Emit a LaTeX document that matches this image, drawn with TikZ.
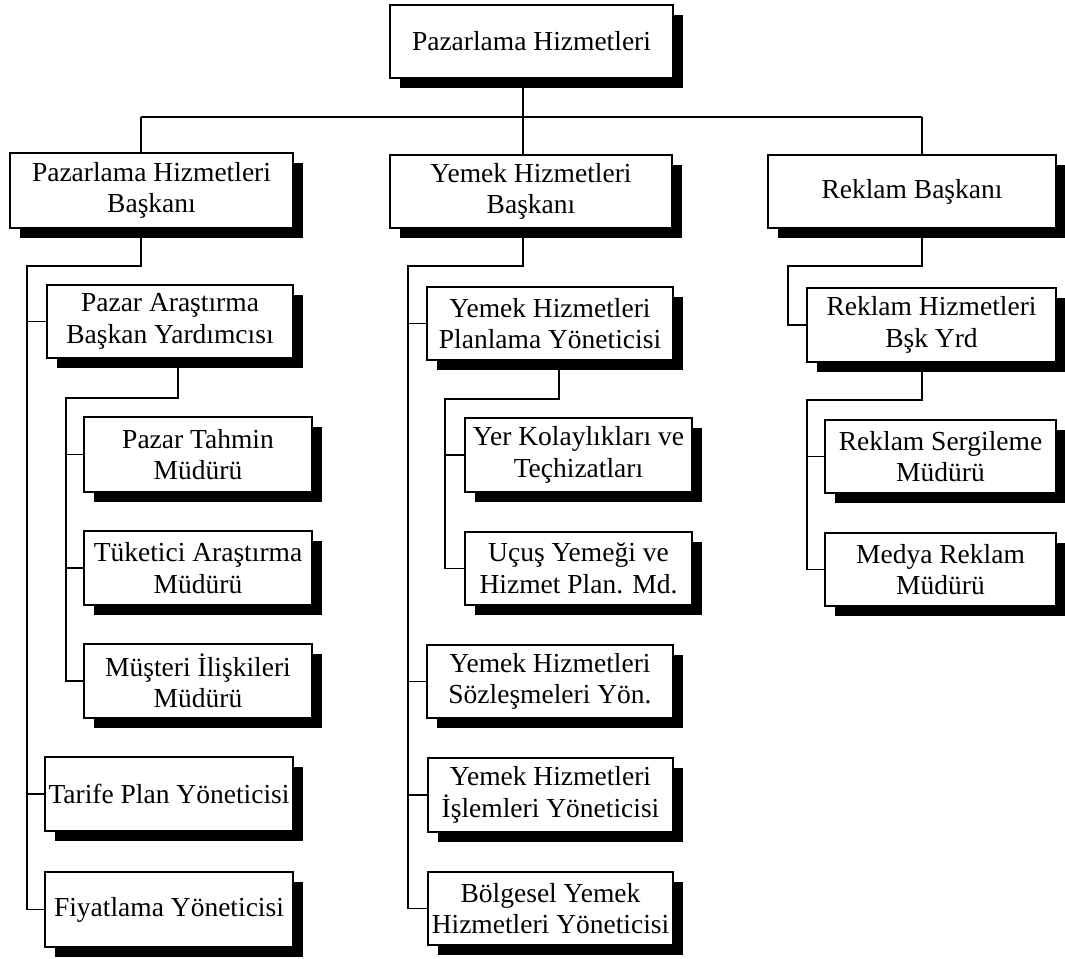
\documentclass[tikz,border=0pt]{standalone}
\usepackage{fontspec}
\setmainfont{Liberation Serif}
\usetikzlibrary{shadows}
\tikzset{
  orgbox/.style={draw, fill=white, line width=1.3pt, inner sep=0pt, align=center,
    font=\fontsize{27.5}{31.5}\selectfont,
    drop shadow={shadow xshift=10pt, shadow yshift=-10pt, fill=black, opacity=1}},
  conn/.style={line width=1.3pt, line join=miter}
}
% #1 name, #2 left, #3 top, #4 right, #5 bottom, #6 text
\newcommand\orgunit[6]{%
  \node[orgbox, minimum width={(#4-#2)*1pt}, minimum height={(#5-#3)*1pt}]
    (#1) at ({(#2+#4)/2},{(#3+#5)/2}) {#6};}
\begin{document}
\begin{tikzpicture}[x=1pt, y=-1pt]
\useasboundingbox (0,0) rectangle (1065,958);

% junctions of the connector lines
\coordinate (j0) at (523,117);
\coordinate (hL) at (141,117);
\coordinate (hR) at (922,117);
\coordinate (a1) at (141,266);
\coordinate (a2) at (27,266);
\coordinate (b1) at (178,398);
\coordinate (b2) at (66,398);
\coordinate (c1) at (523,266);
\coordinate (c2) at (408,266);
\coordinate (d1) at (559,399);
\coordinate (d2) at (445,399);
\coordinate (e1) at (922,266);
\coordinate (e2) at (788,266);
\coordinate (f1) at (922,400);
\coordinate (f2) at (807,400);

% boxes
\orgunit{TB}{390}{5}{673}{78}{Pazarlama Hizmetleri}
\orgunit{PHB}{10}{153}{293}{228}{Pazarlama Hizmetleri\\Başkanı}
\orgunit{YHB}{390}{155}{672}{228}{Yemek Hizmetleri\\Başkanı}
\orgunit{RB}{768}{155}{1056}{228}{Reklam Başkanı}

\orgunit{PA}{47}{285}{293}{358}{Pazar Araştırma\\Başkan Yardımcısı}
\orgunit{PT}{84}{417}{312}{492}{Pazar Tahmin\\Müdürü}
\orgunit{TA}{84}{531}{312}{605}{Tüketici Araştırma\\Müdürü}
\orgunit{MI}{84}{644}{312}{718}{Müşteri İlişkileri\\Müdürü}
\orgunit{TP}{45}{757}{293}{831}{Tarife Plan Yöneticisi}
\orgunit{FY}{45}{872}{293}{947}{Fiyatlama Yöneticisi}

\orgunit{YHP}{427}{287}{673}{360}{Yemek Hizmetleri\\Planlama Yöneticisi}
\orgunit{YK}{465}{418}{692}{492}{Yer Kolaylıkları ve\\Teçhizatları}
\orgunit{UY}{465}{532}{692}{605}{Uçuş Yemeği ve\\Hizmet Plan. Md.}
\orgunit{YHS}{427}{645}{673}{718}{Yemek Hizmetleri\\Sözleşmeleri Yön.}
\orgunit{YHI}{428}{758}{673}{832}{Yemek Hizmetleri\\İşlemleri Yöneticisi}
\orgunit{BY}{428}{872}{673}{945}{Bölgesel Yemek\\Hizmetleri Yöneticisi}

\orgunit{RHB}{807}{288}{1056}{362}{Reklam Hizmetleri\\Bşk Yrd}
\orgunit{RS}{825}{420}{1056}{493}{Reklam Sergileme\\Müdürü}
\orgunit{MR}{825}{533}{1056}{606}{Medya Reklam\\Müdürü}

\begin{scope}[conn]
  % top level
  \draw (TB.south -| j0) -- (j0);
  \draw (hL) -- (hR);
  \draw (hL) -- (hL |- PHB.north);
  \draw (j0) -- (j0 |- YHB.north);
  \draw (hR) -- (hR |- RB.north);

  % Pazarlama Hizmetleri Başkanı
  \draw (a1 |- PHB.south) -- (a1) -- (a2) -- (a2 |- FY.west) -- (FY.west);
  \draw (a2 |- PA.west) -- (PA.west);
  \draw (a2 |- TP.west) -- (TP.west);
  % Pazar Araştırma Başkan Yardımcısı
  \draw (b1 |- PA.south) -- (b1) -- (b2) -- (b2 |- MI.west) -- (MI.west);
  \draw (b2 |- PT.west) -- (PT.west);
  \draw (b2 |- TA.west) -- (TA.west);

  % Yemek Hizmetleri Başkanı
  \draw (c1 |- YHB.south) -- (c1) -- (c2) -- (c2 |- BY.west) -- (BY.west);
  \draw (c2 |- YHP.west) -- (YHP.west);
  \draw (c2 |- YHS.west) -- (YHS.west);
  \draw (c2 |- YHI.west) -- (YHI.west);
  % Yemek Hizmetleri Planlama Yöneticisi
  \draw (d1 |- YHP.south) -- (d1) -- (d2) -- (d2 |- UY.west) -- (UY.west);
  \draw (d2 |- YK.west) -- (YK.west);

  % Reklam Başkanı
  \draw (e1 |- RB.south) -- (e1) -- (e2) -- (e2 |- RHB.west) -- (RHB.west);
  % Reklam Hizmetleri Bşk Yrd
  \draw (f1 |- RHB.south) -- (f1) -- (f2) -- (f2 |- MR.west) -- (MR.west);
  \draw (f2 |- RS.west) -- (RS.west);
\end{scope}
\end{tikzpicture}
\end{document}
